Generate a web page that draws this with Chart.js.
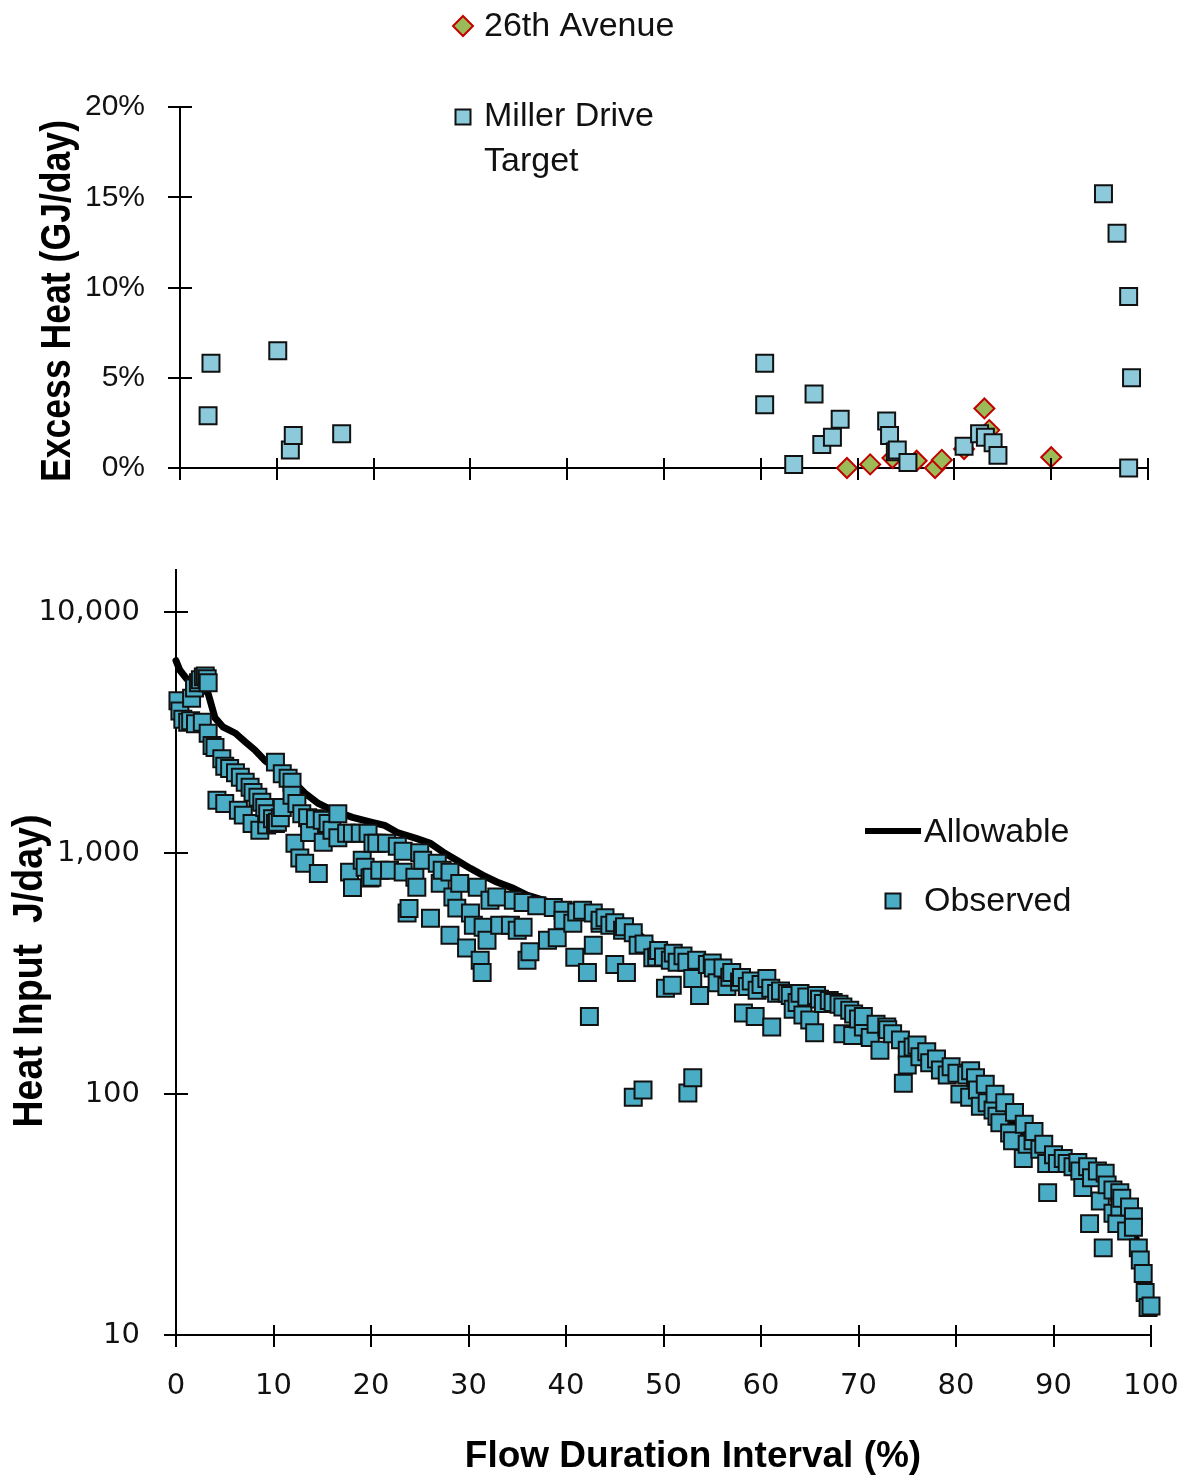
<!DOCTYPE html>
<html><head><meta charset="utf-8">
<script src="https://cdn.jsdelivr.net/npm/chart.js@4.4.1/dist/chart.umd.min.js"></script>
<style>
html,body{margin:0;padding:0;background:#fff;}
#wrap{position:relative;width:1188px;height:1479px;overflow:hidden;}
#topc{position:absolute;left:0;top:0;}
#botc{position:absolute;left:0;top:500px;}
</style></head><body>
<div id="wrap">
<canvas id="topc" width="1188" height="500"></canvas>
<canvas id="botc" width="1188" height="979"></canvas>
</div>
<script>
// ---------- Top chart: Excess Heat (%) ----------
const topXTicks = [0,10,20,30,40,50,60,70,80,90,100];
const topYTicks = [0,5,10,15,20];
const millerX = [2.9, 3.2, 10.1, 11.4, 11.7, 16.7, 60.4, 60.4, 63.4, 65.5, 66.3, 67.4, 68.2, 73.0, 73.3, 73.9, 74.1, 75.2, 81.0, 82.6, 83.2, 84.0, 84.5, 95.4, 96.8, 98.0, 98.3, 98.0];
const millerY = [2.9, 5.8, 6.5, 1.0, 1.8, 1.9, 5.8, 3.5, 0.2, 4.1, 1.3, 1.7, 2.7, 2.6, 1.8, 0.9, 1.0, 0.3, 1.2, 1.9, 1.7, 1.4, 0.7, 15.2, 13.0, 9.5, 5.0, 0.0];
const avenueX = [68.9, 71.3, 73.6, 76.1, 78.0, 78.7, 81.0, 83.1, 83.6, 90.0];
const avenueY = [0.0, 0.2, 0.55, 0.4, 0.0, 0.45, 1.05, 3.3, 2.1, 0.6];

// ---------- Bottom chart: Heat input (log) ----------
const botXTicks = [0,10,20,30,40,50,60,70,80,90,100];
const botYTicks = [10,100,1000,10000];
const allowX = [0, 0.4, 1.1, 2.2, 3.3, 4.0, 4.8, 6.1, 7.1, 8.1, 9.1, 10.5, 11.9, 13.2, 14.6, 16.0, 18.1, 20.1, 21.4, 22.7, 24.7, 26.1, 27.4, 28.8, 30.2, 31.5, 32.9, 34.6, 36.0, 38.4, 40.4, 42.5, 43.8, 45.8, 47.6, 48.3, 49.9, 52.0, 53.7, 56.1, 57.8, 60.2, 63.0, 65.7, 67.1, 69.4, 72.0, 74.6, 78.1, 79.7, 82.5, 85.0, 87.9, 89.9, 91.7, 93.7, 95.0, 96.5, 97.5, 98.5, 99.0, 99.5, 100];
const allowY = [6300, 5750, 5300, 5100, 4600, 3650, 3350, 3150, 2900, 2680, 2430, 2210, 2010, 1780, 1610, 1510, 1410, 1345, 1305, 1220, 1150, 1100, 1010, 935, 865, 810, 760, 715, 670, 625, 597, 570, 553, 527, 457, 428, 408, 388, 367, 343, 318, 291, 275, 258, 246, 217, 195, 173, 138, 129, 104, 82, 63, 55, 52, 47.5, 42, 36, 31.5, 25, 20.5, 16, 13.5];
const obsX = [0.2,0.4,0.7,1.2,1.5,2.0,1.6,1.9,2.3,2.5,2.8,3.0,3.2,3.3,2.7,3.3,3.7,4.0,4.2,4.7,5.0,5.0,5.5,6.1,6.4,6.6,6.9,7.1,7.6,7.8,7.9,8.4,8.6,8.8,9.1,9.3,9.4,9.9,10.2,10.2,10.4,10.7,10.9,10.9,11.5,11.9,11.9,12.2,12.4,12.7,12.9,13.2,13.5,13.7,14.3,14.6,15.0,15.1,15.6,16.0,16.6,16.6,17.5,17.8,18.1,18.1,18.9,19.1,19.4,19.7,19.9,20.1,20.2,20.6,20.9,21.6,21.9,22.7,23.3,23.3,23.7,23.9,24.5,24.7,25.0,25.3,26.1,26.8,27.1,27.3,28.1,28.1,28.4,28.8,29.1,29.8,30.2,30.5,30.9,31.2,31.4,31.5,31.9,32.2,32.9,33.2,34.3,34.6,35.0,35.6,35.6,36.0,36.3,37.0,38.1,38.7,39.1,39.7,39.7,40.7,40.9,41.1,41.7,42.2,42.4,42.8,42.8,43.5,43.5,44.0,44.5,45.0,45.0,45.8,46.0,46.2,46.9,46.9,47.4,47.9,48.0,48.9,49.3,49.5,50.0,50.2,50.7,50.9,51.0,51.4,52.0,52.4,52.5,53.0,53.0,53.4,53.7,54.5,55.0,55.1,55.5,56.1,56.5,56.8,57.0,57.8,58.0,58.2,58.6,59.0,59.4,59.6,60.0,60.6,61.0,61.1,61.6,62.0,62.7,63.0,63.3,63.7,64.0,64.3,64.7,65.0,65.5,65.7,66.0,66.4,67.0,67.4,68.0,68.4,68.4,69.1,69.4,69.5,70.0,70.5,70.5,71.2,71.8,72.2,72.9,73.0,73.5,74.3,74.6,75.0,75.0,75.6,76.0,76.3,77.0,77.3,78.0,78.4,79.1,79.5,80.1,80.4,81.1,81.4,81.5,82.0,82.2,82.5,83.0,83.2,83.8,84.0,84.2,84.5,85.0,85.5,85.8,86.0,86.9,87.0,87.3,87.9,88.0,88.6,89.0,89.3,89.4,90.0,90.4,91.0,91.4,92.0,92.5,92.7,93.0,93.5,93.7,93.9,94.5,94.8,95.1,95.3,95.5,96.1,96.1,96.5,96.8,96.8,97.0,97.5,97.8,98.2,98.2,98.7,98.9,99.2,99.4,99.7,100];
const obsY = [4300,3900,3600,3500,3550,3450,4400,4850,5100,5250,5400,5450,5300,5100,3500,3150,2800,2750,1660,2470,2300,1610,2250,2160,1510,2070,1440,1970,1880,1330,1790,1710,1245,1630,1550,1310,1460,1390,2390,1330,1345,1405,1550,2140,2050,1970,1740,1100,1610,955,1460,910,1405,1220,1390,825,1370,1110,1330,1245,1460,1160,1210,835,1210,720,1210,935,875,1210,790,795,1100,1100,850,1100,850,1070,1020,835,565,590,795,722,1005,935,537,910,750,850,835,457,658,592,750,404,565,503,722,360,320,493,435,638,658,503,503,638,479,625,493,360,390,605,435,595,446,580,527,512,370,570,580,320,210,415,565,512,527,540,503,345,515,479,495,320,468,97,415,104,420,368,371,395,371,275,360,283,385,353,375,353,101,117,302,360,257,345,350,334,290,334,280,306,320,292,305,217,280,295,210,270,285,302,275,190,262,268,262,257,225,240,262,213,253,203,180,257,248,238,245,240,236,230,178,223,175,215,205,190,210,172,195,152,190,185,178,168,111,152,132,157,160,143,150,135,140,126,120,130,122,100,120,97,125,117,104,89,110,92,86,100,81,76,92,69,64,84,54,75,62,64,70,59,62,51.5,39,56,51.5,54,51.5,50,52,48,41,50,29,45,48,36,23,47,42,40,32,29,39,34,37,27,34,31,28,23,20.5,18,15,13,13.2];

const zip = (xs, ys) => xs.map((x, i) => ({x, y: ys[i]}));

const TICK_FONT_TOP = {family: '"Liberation Sans", Arial, sans-serif', size: 30};
const TICK_FONT_BOT = {family: '"DejaVu Sans", sans-serif', size: 29};

function fixedBox(w, h) {
  return function (s) {
    if (w !== null) s.width = w;
    if (h !== null) s.height = h;
    s.paddingLeft = 0; s.paddingRight = 0; s.paddingTop = 0; s.paddingBottom = 0;
  };
}

// crossing tick marks drawn from the scales
const crossTicks = {
  id: 'crossTicks',
  afterDraw(chart) {
    const ctx = chart.ctx, xs = chart.scales.x, ys = chart.scales.y;
    ctx.save();
    ctx.strokeStyle = '#000'; ctx.lineWidth = 2; ctx.lineCap = 'butt';
    const ya = Math.round(xs.top);
    xs.ticks.forEach(t => {
      const px = Math.round(xs.getPixelForValue(t.value));
      ctx.beginPath(); ctx.moveTo(px, ya - 10); ctx.lineTo(px, ya + 12); ctx.stroke();
    });
    const xa = Math.round(ys.right);
    ys.ticks.forEach(t => {
      const py = Math.round(ys.getPixelForValue(t.value));
      ctx.beginPath(); ctx.moveTo(xa - 12, py); ctx.lineTo(xa + 12, py); ctx.stroke();
    });
    ctx.restore();
  }
};

function drawTitleText(ctx, text, cx, cy, rot, font, targetLen) {
  ctx.save();
  ctx.font = font; ctx.fillStyle = '#000';
  ctx.textAlign = 'center'; ctx.textBaseline = 'middle';
  ctx.translate(cx, cy); ctx.rotate(rot);
  if (targetLen) { const w = ctx.measureText(text).width; ctx.scale(targetLen / w, 1); }
  ctx.fillText(text, 0, 0);
  ctx.restore();
}

const axisTitles = {
  id: 'axisTitles',
  afterDraw(chart, args, opts) {
    (opts.items || []).forEach(it => drawTitleText(chart.ctx, it.text, it.x, it.y, it.rot || 0, it.font, it.len));
  }
};

function drawMarker(ctx, kind, x, y, ds) {
  ctx.save();
  ctx.fillStyle = ds.backgroundColor; ctx.strokeStyle = ds.borderColor; ctx.lineWidth = 2;
  ctx.beginPath();
  if (kind === 'diamond') {
    ctx.moveTo(x, y - 10); ctx.lineTo(x + 10, y); ctx.lineTo(x, y + 10); ctx.lineTo(x - 10, y); ctx.closePath();
    ctx.fill(); ctx.stroke();
  } else if (kind === 'square') {
    ctx.rect(x - 7.5, y - 7.5, 15, 15); ctx.fill(); ctx.stroke();
  } else if (kind === 'line') {
    ctx.strokeStyle = ds.borderColor; ctx.lineWidth = 6;
    ctx.moveTo(x - 28, y); ctx.lineTo(x + 28, y); ctx.stroke();
  }
  ctx.restore();
}

const customLegend = {
  id: 'customLegend',
  afterDraw(chart, args, opts) {
    const ctx = chart.ctx;
    (opts.items || []).forEach(it => {
      const ds = chart.data.datasets[it.ds];
      drawMarker(ctx, it.marker, it.mx, it.my, ds);
      ctx.save();
      ctx.font = opts.font; ctx.fillStyle = '#111';
      ctx.textAlign = 'left'; ctx.textBaseline = 'middle';
      const words = ds.label.split(' ');
      const lines = []; let cur = '';
      words.forEach(w => {
        const test = cur ? cur + ' ' + w : w;
        if (cur && ctx.measureText(test).width > (it.maxWidth || 9999)) { lines.push(cur); cur = w; }
        else cur = test;
      });
      if (cur) lines.push(cur);
      lines.forEach((ln, i) => ctx.fillText(ln, it.tx, it.ty + i * (opts.lineHeight || 45)));
      ctx.restore();
    });
  }
};

// ---------- TOP CHART ----------
new Chart(document.getElementById('topc'), {
  type: 'scatter',
  data: {
    datasets: [
      { label: 'Miller Drive Target', data: zip(millerX, millerY), pointStyle: 'rect', pointRadius: 12,
        backgroundColor: '#8CC9DB', borderColor: '#111', borderWidth: 2, clip: false, order: 0 },
      { label: '26th Avenue', data: zip(avenueX, avenueY), pointStyle: 'rectRot', pointRadius: 10,
        backgroundColor: '#9BBB59', borderColor: '#C00000', borderWidth: 2, clip: false, order: 1 }
    ]
  },
  options: {
    responsive: false, animation: false, devicePixelRatio: 1,
    events: [],
    layout: { padding: { left: 0, right: 40, top: 107, bottom: 0 } },
    plugins: {
      legend: { display: false }, tooltip: { enabled: false },
      customLegend: {
        font: '34px "Liberation Sans", Arial, sans-serif', lineHeight: 45,
        items: [
          { ds: 1, marker: 'diamond', mx: 463, my: 26, tx: 484, ty: 27 },
          { ds: 0, marker: 'square', mx: 463, my: 117, tx: 484, ty: 117, maxWidth: 200 }
        ]
      },
      axisTitles: {
        items: [ { text: 'Excess Heat (GJ/day)', x: 58, y: 301, rot: -Math.PI / 2,
                   font: 'bold 42px "Liberation Sans", Arial, sans-serif', len: 362 } ]
      }
    },
    scales: {
      x: {
        type: 'linear', min: 0, max: 100,
        afterBuildTicks(s) { s.ticks = topXTicks.map(v => ({ value: v })); },
        ticks: { display: false },
        grid: { display: false, drawTicks: false },
        border: { display: true, color: '#000', width: 2 },
        afterFit: fixedBox(null, 32)
      },
      y: {
        type: 'linear', min: 0, max: 20,
        afterBuildTicks(s) { s.ticks = topYTicks.map(v => ({ value: v })); },
        ticks: { callback: v => v + '%', font: TICK_FONT_TOP, color: '#111', padding: 35 },
        grid: { display: false, drawTicks: false },
        border: { display: true, color: '#000', width: 2 },
        afterFit: fixedBox(180, null)
      }
    }
  },
  plugins: [crossTicks, customLegend, axisTitles]
});

// ---------- BOTTOM CHART ----------
new Chart(document.getElementById('botc'), {
  type: 'scatter',
  data: {
    datasets: [
      { type: 'scatter', label: 'Observed', data: zip(obsX, obsY), pointStyle: 'rect', pointRadius: 12,
        backgroundColor: '#4BACC6', borderColor: '#111', borderWidth: 2, clip: false, order: 0 },
      { type: 'line', label: 'Allowable', data: zip(allowX, allowY), showLine: true, borderColor: '#000',
        borderWidth: 7, pointRadius: 0, tension: 0, fill: false, clip: false, order: 1,
        borderJoinStyle: 'round', borderCapStyle: 'round' }
    ]
  },
  options: {
    responsive: false, animation: false, devicePixelRatio: 1,
    events: [],
    layout: { padding: { left: 0, right: 37, top: 70, bottom: 0 } },
    plugins: {
      legend: { display: false }, tooltip: { enabled: false },
      customLegend: {
        font: '34px "Liberation Sans", Arial, sans-serif',
        items: [
          { ds: 1, marker: 'line', mx: 893, my: 331, tx: 924, ty: 333 },
          { ds: 0, marker: 'square', mx: 893, my: 401, tx: 924, ty: 402 }
        ]
      },
      axisTitles: {
        items: [
          { text: 'Heat Input  J/day)', x: 30, y: 471, rot: -Math.PI / 2,
            font: 'bold 42px "Liberation Sans", Arial, sans-serif', len: 313 },
          { text: 'Flow Duration Interval (%)', x: 693, y: 957, rot: 0,
            font: 'bold 37px "Liberation Sans", Arial, sans-serif' }
        ]
      }
    },
    scales: {
      x: {
        type: 'linear', min: 0, max: 100,
        afterBuildTicks(s) { s.ticks = botXTicks.map(v => ({ value: v })); },
        ticks: { font: TICK_FONT_BOT, color: '#111', padding: 34, maxRotation: 0, autoSkip: false },
        grid: { display: false, drawTicks: false },
        border: { display: true, color: '#000', width: 2 },
        afterFit: fixedBox(null, 144)
      },
      y: {
        type: 'logarithmic', min: 10, max: 15000,
        afterBuildTicks(s) { s.ticks = botYTicks.map(v => ({ value: v })); },
        ticks: { callback: v => Number(v).toLocaleString('en-US'), font: TICK_FONT_BOT, color: '#111', padding: 36 },
        grid: { display: false, drawTicks: false },
        border: { display: true, color: '#000', width: 2 },
        afterFit: fixedBox(176, null)
      }
    }
  },
  plugins: [crossTicks, customLegend, axisTitles]
});
</script>
</body></html>
